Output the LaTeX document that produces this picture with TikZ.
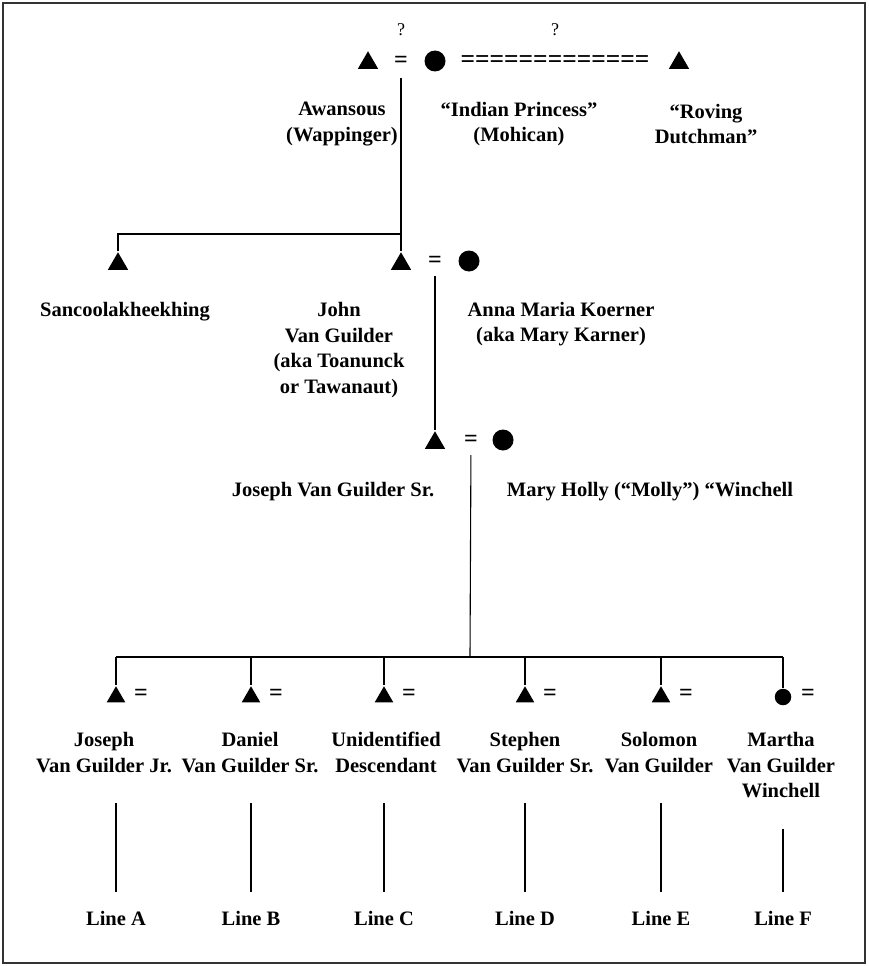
\documentclass[tikz,border=0pt]{standalone}
\usepackage{fontspec}
\setmainfont{Liberation Serif}
\usetikzlibrary{shapes.geometric,positioning,calc}

\begin{document}
\begin{tikzpicture}[x=1pt,y=-1pt,line width=1.1pt]
    \tikzstyle{male}=[regular polygon, regular polygon sides=3, fill, inner sep=0pt, minimum size=23.5pt]
    \tikzstyle{kidmale}=[male, minimum size=21.5pt]
    \tikzstyle{female}=[circle, fill, inner sep=0pt, minimum size=21pt]
    \tikzstyle{kidfemale}=[female, minimum size=16.5pt]
    \tikzstyle{wed}=[inner sep=0pt, font=\bfseries\fontsize{24}{24}\selectfont]
    \tikzstyle{label}=[inner sep=0pt, align=center, font=\bfseries\fontsize{20.5}{25.5}\selectfont]
    \tikzstyle{qmark}=[inner sep=0pt, font=\fontsize{18}{18}\selectfont]

    % frame
    \useasboundingbox (0,0) rectangle (868,966);
    \draw[line width=1.6pt, black!80] (3,3) rectangle (865,963);

    % first generation
    \node[qmark]   (q1) at (401,30) {?};
    \node[qmark]   (q2) at (555,30) {?};
    \node[male]    (awansous) at (368,63) {};
    \node[wed]     (m1) at (401,62) {=};
    \node[female]  (princess) at (435,61) {};
    \node[wed, font=\bfseries\fontsize{25.5}{25}\selectfont] (dd) at (555,62) {=============};
    \node[male]    (roving) at (679,63) {};

    \node[label] (awansousl) at (342,124) {Awansous\\(Wappinger)};
    \node[label] (princessl) at (519,124) {“Indian Princess”\\(Mohican)};
    \node[label] (rovingl) at (706,124) {“Roving\\Dutchman”};

    % second generation
    \coordinate (sib1) at (401,234);
    \node[male]    (sanc) at (118,264) {};
    \node[male]    (john) at (401,264) {};
    \node[wed]     (m2) at (435,262) {=};
    \node[female]  (anna) at (469,261) {};

    \node[label] (sancl) at (125,312) {Sancoolakheekhing};
    \node[label] (johnl) at (339,350) {John\\Van Guilder\\(aka Toanunck\\or Tawanaut)};
    \node[label] (annal) at (561,324) {Anna Maria Koerner\\(aka Mary Karner)};

    \draw[shorten <=16pt] (m1.center) -- (john.north);
    \draw (sanc.north) |- (sib1);

    % third generation
    \node[male]    (joseph) at (435,443) {};
    \node[wed]     (m3) at (471,441) {=};
    \node[female]  (molly) at (503,440) {};

    \node[label] (josephl) at (333,492) {Joseph Van Guilder Sr.};
    \node[label] (mollyl) at (650,492) {Mary Holly (“Molly”) “Winchell};

    \draw[shorten <=14pt] (m2.center) -- (joseph.north);

    % children
    \coordinate (sib3) at (470,657);
    \draw[shorten <=14pt] (m3.center) -- (sib3);
    \foreach \i/\x/\lx/\kind/\txt/\ln in {
        1/116/104/kidmale/{Joseph\\Van Guilder Jr.}/A,
        2/251/250/kidmale/{Daniel\\Van Guilder Sr.}/B,
        3/384/386/kidmale/{Unidentified\\Descendant}/C,
        4/525/525/kidmale/{Stephen\\Van Guilder Sr.}/D,
        5/661/659/kidmale/{Solomon\\Van Guilder}/E,
        6/783/781/kidfemale/{Martha\\Van Guilder\\Winchell}/F} {
        \node[\kind] (c\i) at (\x,697) {};
        \node[wed]   (cm\i) at (\x+25,695) {=};
        \node[label, anchor=north] (cl\i) at (\lx,732) {\txt};
        \node[label] (line\i) at (\x,918) {Line \ln};
        \draw (c\i.north) -- (c\i.north |- sib3);
        \draw[shorten <=30pt, shorten >=18pt] (c\i.north |- cl\i.south) -- (line\i.north);
    }
    \draw (c1.north |- sib3) -- (c6.north |- sib3);

\end{tikzpicture}
\end{document}
